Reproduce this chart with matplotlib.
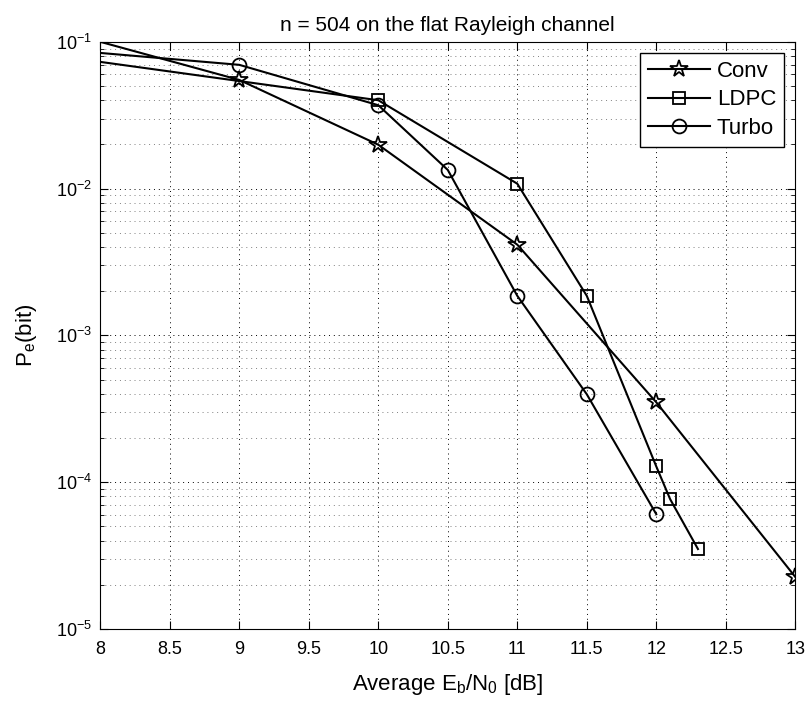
import numpy as np
import matplotlib
matplotlib.use('Agg')
import matplotlib.pyplot as plt

plt.rcParams['font.family'] = ['Liberation Sans', 'DejaVu Sans']
plt.rcParams['mathtext.default'] = 'regular'

# Eb/N0 [dB] and bit error rates
conv_snr = [8, 9, 10, 11, 12, 13]
conv_ber = [0.1, 0.055, 0.0199, 4.15e-3, 3.5e-4, 2.26e-5]

ldpc_snr = [8, 10, 11, 11.5, 12, 12.1, 12.3]
ldpc_ber = [0.073, 0.040, 0.0108, 1.86e-3, 1.28e-4, 7.65e-5, 3.5e-5]

turbo_snr = [8, 9, 10, 10.5, 11, 11.5, 12]
turbo_ber = [0.084, 0.0697, 0.037, 0.0134, 1.86e-3, 3.97e-4, 6.05e-5]

fig = plt.figure(figsize=(8.09, 7.09), dpi=100)
ax = fig.add_axes([0.124, 0.113, 0.859, 0.828])

# first point of each curve is where the line enters the axes, no marker there
style = dict(color='black', linewidth=1.5, markerfacecolor='none',
             markeredgewidth=1.3, markevery=slice(1, None))
ax.semilogy(conv_snr, conv_ber, marker='*', markersize=13, label='Conv', **style)
ax.semilogy(ldpc_snr, ldpc_ber, marker='s', markersize=8, label='LDPC', **style)
ax.semilogy(turbo_snr, turbo_ber, marker='o', markersize=10, label='Turbo', **style)

ax.set_xlim(8, 13)
ax.set_ylim(1e-5, 1e-1)
ax.set_xticks(np.arange(8, 13.01, 0.5))
ax.set_xticklabels(['8', '8.5', '9', '9.5', '10', '10.5', '11', '11.5', '12', '12.5', '13'])

ax.grid(True, which='major', linestyle=(0, (1, 4)), color='black', linewidth=0.7)
ax.grid(True, which='minor', axis='y', linestyle=(0, (1, 4)), color='gray', linewidth=0.7)
ax.tick_params(which='both', direction='in', top=True, right=True, labelsize=13)
ax.tick_params(axis='x', pad=9)
ax.tick_params(axis='y', pad=6)
ax.tick_params(which='major', length=6)
ax.tick_params(which='minor', length=3)

ax.set_title('n = 504 on the flat Rayleigh channel', fontsize=15, pad=8)
ax.set_xlabel('Average E$_b$/N$_0$ [dB]', fontsize=16, labelpad=10)
ax.set_ylabel('P$_e$(bit)', fontsize=16, labelpad=12)

leg = ax.legend(loc='upper right', fontsize=16, fancybox=False, framealpha=1,
                edgecolor='black', handlelength=2.8, handletextpad=0.3,
                borderaxespad=0.5, labelspacing=0.35, borderpad=0.35)
leg.get_frame().set_linewidth(1.0)

plt.savefig('out.png', dpi=100)
